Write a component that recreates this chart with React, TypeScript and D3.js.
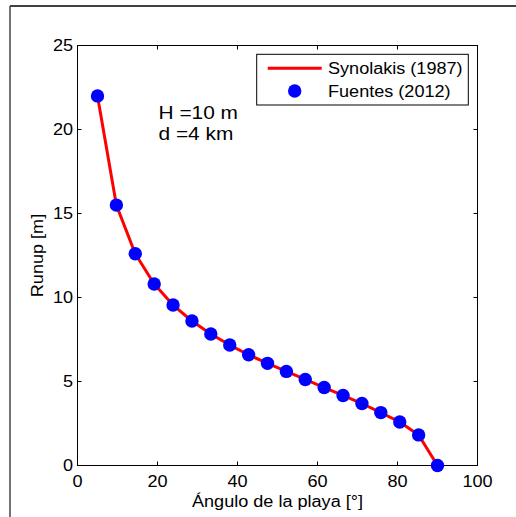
import React from "react";
import * as d3 from "d3";

// Data
const synolakisAngle = [5, 9.72, 14.44, 19.17, 23.89, 28.61, 33.33, 38.06, 42.78, 47.5, 52.22, 56.94, 61.67, 66.39, 71.11, 75.83, 80.56, 85.28, 90];
const synolakisRunup = [22.0, 15.5, 12.6, 10.8, 9.55, 8.6, 7.83, 7.17, 6.59, 6.08, 5.6, 5.12, 4.64, 4.17, 3.69, 3.15, 2.59, 1.82, 0];
const fuentesAngle = [5, 9.72, 14.44, 19.17, 23.89, 28.61, 33.33, 38.06, 42.78, 47.5, 52.22, 56.94, 61.67, 66.39, 71.11, 75.83, 80.56, 85.28, 90];
const fuentesRunup = [22.0, 15.5, 12.6, 10.8, 9.55, 8.6, 7.83, 7.17, 6.59, 6.08, 5.6, 5.12, 4.64, 4.17, 3.69, 3.15, 2.59, 1.82, 0];
const xTicks = [0, 20, 40, 60, 80, 100];
const yTicks = [0, 5, 10, 15, 20, 25];
const legendLabels = ["Synolakis (1987)", "Fuentes (2012)"];
const annotation = ["H =10 m", "d =4 km"];
const xTitle = "Ángulo de la playa [°]";
const yTitle = "Runup [m]";

const W = 516;
const H = 517;
const left = 77.5, right = 477.5, top = 45.5, bottom = 465.5;
const FONT = "'Liberation Sans', Arial, Helvetica, sans-serif";
const SX = 1.13;

export default function App() {
  const x = d3.scaleLinear().domain([0, 100]).range([left, right]);
  const y = d3.scaleLinear().domain([0, 25]).range([bottom, top]);
  const line = d3
    .line<number>()
    .x((_, i) => x(synolakisAngle[i]))
    .y((d) => y(d));
  const tickLen = 4;

  const T = (props: { x: number; y: number; size: number; anchor?: string; rotate?: number; children: React.ReactNode }) => (
    <text
      transform={`translate(${props.x},${props.y}) rotate(${props.rotate ?? 0}) scale(${SX},1)`}
      fontSize={props.size}
      fontFamily={FONT}
      textAnchor={props.anchor ?? "start"}
      fill="#000"
    >
      {props.children}
    </text>
  );

  return (
    <svg width={W} height={H} style={{ position: "absolute", left: 0, top: 0, background: "#fff" }}>
      <rect x={0} y={0} width={W} height={H} fill="#fff" />
      {/* outer figure border */}
      <line x1={10} y1={6} x2={W} y2={6} stroke="#000" strokeWidth={1.5} />
      <line x1={10} y1={6} x2={10} y2={H} stroke="#444" strokeWidth={1.5} />

      {/* plot box */}
      <rect x={left} y={top} width={right - left} height={bottom - top} fill="none" stroke="#000" strokeWidth={1} />

      {/* ticks */}
      {xTicks.map((t) => (
        <g key={"x" + t}>
          <line x1={x(t)} x2={x(t)} y1={bottom} y2={bottom - tickLen} stroke="#000" />
          <line x1={x(t)} x2={x(t)} y1={top} y2={top + tickLen} stroke="#000" />
          <T x={x(t)} y={487} size={16} anchor="middle">{t}</T>
        </g>
      ))}
      {yTicks.map((t) => (
        <g key={"y" + t}>
          <line x1={left} x2={left + tickLen} y1={y(t)} y2={y(t)} stroke="#000" />
          <line x1={right} x2={right - tickLen} y1={y(t)} y2={y(t)} stroke="#000" />
          <T x={73} y={y(t) + 5.8} size={16} anchor="end">{t}</T>
        </g>
      ))}

      {/* axis titles */}
      <T x={(left + right) / 2} y={507} size={16} anchor="middle">{xTitle}</T>
      <T x={42.5} y={(top + bottom) / 2} size={16} anchor="middle" rotate={-90}>{yTitle}</T>

      {/* data */}
      <path d={line(synolakisRunup) ?? ""} fill="none" stroke="#ff0000" strokeWidth={3} strokeLinejoin="round" />
      {fuentesRunup.map((v, i) => (
        <circle key={i} cx={x(fuentesAngle[i])} cy={y(v)} r={6.7} fill="#0000ff" />
      ))}

      {/* annotation */}
      <T x={158.5} y={119.3} size={18.5}>{annotation[0]}</T>
      <T x={158.5} y={139.5} size={18.5}>{annotation[1]}</T>

      {/* legend */}
      <rect x={256.7} y={54.3} width={211.6} height={50.7} fill="#fff" stroke="#000" strokeWidth={1} />
      <line x1={267.7} x2={321.7} y1={68.3} y2={68.3} stroke="#ff0000" strokeWidth={3} />
      <circle cx={294.7} cy={91} r={6.7} fill="#0000ff" />
      <T x={328} y={74} size={16}>{legendLabels[0]}</T>
      <T x={328} y={96.5} size={16}>{legendLabels[1]}</T>
    </svg>
  );
}
